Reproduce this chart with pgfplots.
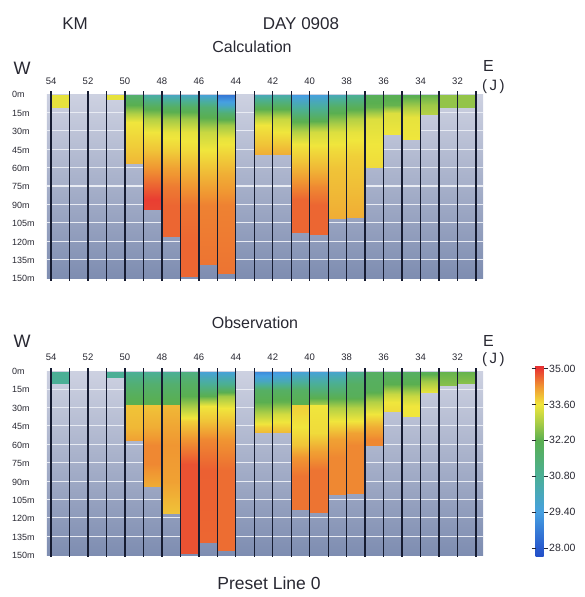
\documentclass[border=0pt]{standalone}
\usepackage{pgfplots}
\pgfplotsset{compat=1.18}
\usepackage{fontspec}
\setmainfont{Liberation Sans}
\definecolor{txt}{RGB}{40,40,50}
\definecolor{vline}{RGB}{22,28,50}
\definecolor{gtop}{RGB}{205,209,225}
\definecolor{gbot}{RGB}{126,141,177}
\definecolor{wgrid}{RGB}{232,235,243}
\pgfplotsset{
  colormap={tc}{rgb255(0)=(35,80,200) rgb255(31)=(40,90,205) rgb255(171)=(70,160,225)
    rgb255(311)=(75,175,150) rgb255(451)=(90,175,80) rgb255(521)=(170,205,70)
    rgb255(591)=(240,230,60) rgb255(661)=(240,150,50) rgb255(731)=(232,55,50) rgb255(745)=(230,45,50)},
  panel/.style={
    scale only axis, width=436pt, height=189.2pt,
    xmin=30.62, xmax=54.22, x dir=reverse,
    ymin=-2.7, ymax=151.5, y dir=reverse,
    axis line style={draw=none},
    major tick length=0pt,
    point meta min=27.69, point meta max=35.14,
    xtick={32,34,...,54},
    xticklabel pos=right,
    xticklabels={32,34,36,38,40,42,44,46,48,50,52,54},
    xticklabel style={font=\fontsize{9.5}{10}\selectfont, text=txt, anchor=south, inner sep=0pt, yshift=7pt},
    ytick={0,15,...,150},
    yticklabels={0m,15m,30m,45m,60m,75m,90m,105m,120m,135m,150m},
    yticklabel style={font=\fontsize{9}{10}\selectfont, text=txt, anchor=west, inner sep=0pt, xshift=-35pt},
  },
}
\newcommand\cell[2]{%
  \gdef\cellcoords{}%
  \pgfmathtruncatemacro\cellr{#1-1}%
  \foreach \cd/\ct in {#2}{\xdef\cellcoords{\cellcoords(#1,\cd)[\ct](\cellr,\cd)[\ct]}}%
  \edef\cellcmd{\noexpand\addplot[surf, shader=interp, mesh/cols=2, point meta=explicit] coordinates {\cellcoords};}%
  \cellcmd}
\newcommand\panelback{%
  \fill[top color=gtop, bottom color=gbot] (axis cs:54.22,0) rectangle (axis cs:30.62,149.6);
  \pgfplotsinvokeforeach{14.3,29.3,44.3,59.3,74.3,89.3,104.3,119.3,134.3}{%
    \draw[wgrid, line width=1.1pt] (axis cs:54.22,##1) -- (axis cs:30.62,##1);}}
\newcommand\panellines{%
  \pgfplotsinvokeforeach{31,...,54}{%
    \draw[vline, line width=1.3pt] (axis cs:##1,-2.7) -- (axis cs:##1,151.5);}}
\begin{document}
\begin{tikzpicture}
\useasboundingbox (0,0) rectangle (585pt,597pt);
% ---------------- Calculation
\begin{axis}[panel, at={(47pt,316.3pt)}, anchor=south west]
\panelback
\cell{54}{0/33.5,10/33.5}
\cell{51}{0/33.5,3.5/33.5}
\cell{50}{0/31.6,8/32.2,16/33.0,22/33.6,40/33.8,55.7/34.0}
\cell{49}{0/30.5,10/32.0,20/33.0,30/33.6,45/33.9,60/34.3,75/34.7,85/34.95,93.7/34.9}
\cell{48}{0/30.0,10/31.8,20/32.8,30/33.5,45/33.8,60/34.2,75/34.5,90/34.65,115.5/34.65}
\cell{47}{0/30.0,10/31.8,20/32.8,30/33.5,45/33.7,60/34.0,75/34.3,90/34.55,120/34.65,148/34.65}
\cell{46}{0/29.6,10/31.5,20/32.3,30/33.2,45/33.6,60/33.9,75/34.2,90/34.45,138.5/34.55}
\cell{45}{0/28.6,8/29.8,15/31.5,25/32.8,35/33.5,50/33.8,65/34.1,90/34.45,146/34.55}
\cell{43}{0/30.2,10/32.0,18/33.0,25/33.6,40/33.9,49/34.1}
\cell{42}{0/30.4,10/32.0,20/33.2,30/33.6,45/34.0,49/34.1}
\cell{41}{0/29.3,10/30.6,20/32.0,30/33.0,40/33.6,55/33.9,70/34.3,85/34.65,112/34.65}
\cell{40}{0/29.5,10/30.7,20/32.0,30/33.3,45/33.7,60/34.0,75/34.4,90/34.65,114/34.65}
\cell{39}{0/30.2,10/31.8,20/32.6,30/33.4,45/33.7,60/33.9,100.5/34.1}
\cell{38}{0/30.8,10/32.0,20/33.0,30/33.5,50/33.8,100/34.1}
\cell{37}{0/32.0,10/32.3,20/33.4,40/33.6,59/33.7}
\cell{36}{0/32.1,8/32.3,15/33.4,32.6/33.6}
\cell{35}{0/32.1,10/32.9,18/33.5,36.7/33.6}
\cell{34}{0/32.3,8/32.8,16/33.0}
\cell{33}{0/32.7,10.5/32.7}
\cell{32}{0/32.7,10/32.7}
\panellines
\end{axis}
% ---------------- Observation
\begin{axis}[panel, at={(47pt,39.6pt)}, anchor=south west,
  colorbar,
  colorbar style={at={(parent axis.north east)}, anchor=north west, xshift=44pt, yshift=3.2pt,
    scale only axis, width=8pt, height=191pt,
    ytick={28,29.4,30.8,32.2,33.6,35},
    yticklabels={28.00,29.40,30.80,32.20,33.60,35.00},
    yticklabel style={font=\fontsize{10.5}{12}\selectfont, text=txt, inner sep=1.5pt},
    axis line style={draw=none},
    major tick length=4pt, tick align=outside,
    every tick/.style={draw=txt, line width=0.7pt}}]
\panelback
\cell{54}{0/30.8,9.4/30.8}
\cell{51}{0/30.8,4.5/30.8}
\cell{50}{0/30.8,10/31.5,20/32.0,26.5/32.2,27.5/33.9,45/34.0,56/34.2}
\cell{49}{0/30.8,10/31.6,20/32.0,26.5/32.2,27.5/33.9,45/34.1,60/34.4,75/34.4,94/34.1}
\cell{48}{0/30.8,10/31.6,20/32.0,26.5/32.2,27.5/34.0,60/34.3,90/34.2,116/33.9}
\cell{47}{0/31.2,10/31.8,20/32.2,30/33.0,40/33.8,55/34.3,75/34.8,148/34.8}
\cell{46}{0/29.6,10/30.8,20/32.2,28/33.6,40/33.9,55/34.4,80/34.7,139/34.65}
\cell{45}{0/29.6,10/30.9,20/32.8,30/33.6,40/33.9,55/34.3,80/34.6,145.5/34.6}
\cell{43}{0/29.0,8/30.0,15/31.8,25/32.2,35/33.0,45/33.8,50/34.0}
\cell{42}{0/29.2,8/30.2,15/31.8,25/32.3,35/33.3,45/33.8,50/34.0}
\cell{41}{0/29.6,8/30.6,15/31.8,26.5/32.2,27.5/33.8,45/33.6,60/33.9,70/34.3,85/34.55,112.5/34.55}
\cell{40}{0/29.6,10/30.8,20/32.0,26.5/32.8,27.5/33.6,50/33.7,65/34.2,80/34.55,114.5/34.55}
\cell{39}{0/29.8,10/31.0,20/32.0,30/33.0,40/33.6,55/34.2,70/34.4,100/34.4}
\cell{38}{0/31.0,10/31.8,20/32.0,30/33.0,40/33.6,50/34.2,60/34.4,99.5/34.4}
\cell{37}{0/31.8,15/32.0,25/33.0,35/33.6,45/34.1,55/34.4,60/34.4}
\cell{36}{0/31.8,10/32.2,18/33.2,25/33.6,32.7/33.7}
\cell{35}{0/31.8,10/32.2,20/33.2,28/33.6,37/33.6}
\cell{34}{0/32.0,8/32.8,17/33.5}
\cell{33}{0/32.3,11/32.6}
\cell{32}{0/32.3,9.6/32.6}
\panellines
\end{axis}
% ---------------- texts
\begin{scope}[every node/.style={text=txt, inner sep=0pt}]
\node[font=\fontsize{17}{19}\selectfont] at (75pt,573.5pt) {KM};
\node[font=\fontsize{17}{19}\selectfont] at (301pt,573.5pt) {DAY 0908};
\node[font=\fontsize{16}{18}\selectfont] at (252pt,550pt) {Calculation};
\node[font=\fontsize{18}{20}\selectfont] at (22pt,529pt) {W};
\node[font=\fontsize{16}{18}\selectfont, anchor=west] at (483pt,531pt) {E};
\node[font=\fontsize{15}{17}\selectfont, anchor=west] at (482pt,510pt) {(\,J\,)};
\node[font=\fontsize{16}{18}\selectfont] at (255pt,274pt) {Observation};
\node[font=\fontsize{18}{20}\selectfont] at (22pt,256pt) {W};
\node[font=\fontsize{16}{18}\selectfont, anchor=west] at (483pt,256pt) {E};
\node[font=\fontsize{15}{17}\selectfont, anchor=west] at (482pt,237pt) {(\,J\,)};
\node[font=\fontsize{17.5}{20}\selectfont] at (269pt,14pt) {Preset Line 0};
\end{scope}
\end{tikzpicture}
\end{document}
